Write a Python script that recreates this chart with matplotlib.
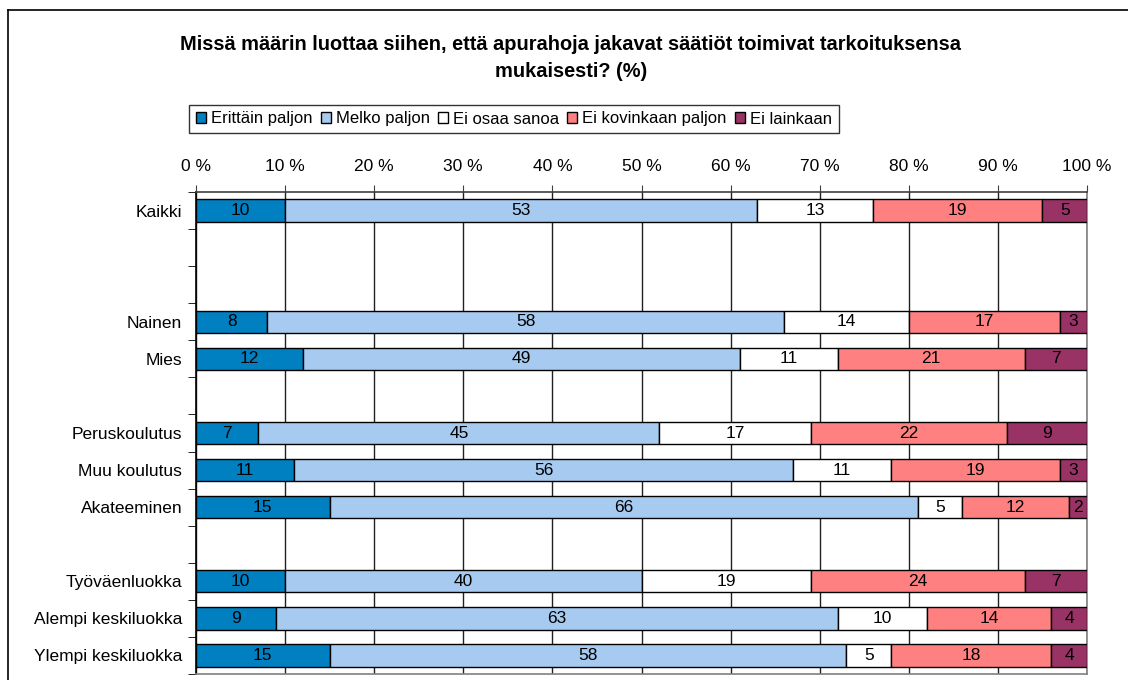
import numpy as np
import matplotlib.pyplot as plt
from matplotlib.lines import Line2D

plt.rcParams['font.family'] = ['Liberation Sans', 'DejaVu Sans']

categories = ['Kaikki', '', '', 'Nainen', 'Mies', '', 'Peruskoulutus', 'Muu koulutus',
              'Akateeminen', '', 'Työväenluokka', 'Alempi keskiluokka', 'Ylempi keskiluokka']
series_names = ['Erittäin paljon', 'Melko paljon', 'Ei osaa sanoa', 'Ei kovinkaan paljon', 'Ei lainkaan']
# None = tyhjä rivi
erittain = [10, None, None, 8, 12, None, 7, 11, 15, None, 10, 9, 15]
melko = [53, None, None, 58, 49, None, 45, 56, 66, None, 40, 63, 58]
ei_osaa = [13, None, None, 14, 11, None, 17, 11, 5, None, 19, 10, 5]
ei_kovin = [19, None, None, 17, 21, None, 22, 19, 12, None, 24, 14, 18]
ei_lainkaan = [5, None, None, 3, 7, None, 9, 3, 2, None, 7, 4, 4]
colors = ['#0080C0', '#A6CAF0', '#FFFFFF', '#FF8080', '#993366']
xticks = list(range(0, 101, 10))

fig = plt.figure(figsize=(11.28, 6.8), dpi=100)
ax = fig.add_axes([196/1128, 6/680, (1087-196)/1128, (674-192)/680])

data = [erittain, melko, ei_osaa, ei_kovin, ei_lainkaan]
n = len(categories)
y = np.arange(n)
rows = [i for i in range(n) if erittain[i] is not None]
left = np.zeros(n)
for vals, name, col in zip(data, series_names, colors):
    w = np.array([vals[i] for i in rows], dtype=float)
    ax.barh(y[rows], w, left=left[rows], height=0.6, color=col, edgecolor='black',
            linewidth=1, label=name, zorder=3)
    for k, i in enumerate(rows):
        ax.text(left[i] + w[k] / 2, y[i], f'{int(w[k])}', ha='center', va='center',
                fontsize=12.5, color='black', zorder=4)
        left[i] += w[k]

ax.set_xlim(0, 100)
ax.set_ylim(n - 0.5, -0.5)
ax.xaxis.tick_top()
ax.set_xticks(xticks)
ax.set_xticklabels([f'{t} %' for t in xticks], fontsize=12.5)
ax.tick_params(axis='x', length=5, pad=8, color='#404040')
ax.set_yticks(y)
ax.set_yticklabels(categories, fontsize=12.5)
ax.set_yticks(np.arange(n + 1) - 0.5, minor=True)
ax.tick_params(axis='y', which='major', length=0, pad=10)
ax.tick_params(axis='y', which='minor', length=6, color='black')
ax.grid(axis='x', color='#202020', linewidth=1, zorder=0)
ax.spines['left'].set_color('black')
ax.spines['top'].set_color('#404040')
ax.spines['right'].set_color('#808080')
ax.spines['bottom'].set_color('#808080')
for s in ax.spines.values():
    s.set_linewidth(1.2)

fig.text(571/1128, 1 - 58/680,
         'Missä määrin luottaa siihen, että apurahoja jakavat säätiöt toimivat tarkoituksensa\nmukaisesti? (%)',
         ha='center', va='center', fontsize=14.4, fontweight='bold', linespacing=1.5)

leg = fig.legend(loc='center', bbox_to_anchor=(514/1128, 1 - 119/680), ncol=5, fontsize=12,
                 frameon=True, fancybox=False, handlelength=0.6, handleheight=0.6,
                 handletextpad=0.3, columnspacing=0.5, borderpad=0.4, borderaxespad=0)
leg.get_frame().set_edgecolor('black')
leg.get_frame().set_linewidth(1)

# kuvan reunaviivat
fig.add_artist(Line2D([8/1128, 1], [1 - 10/680, 1 - 10/680], color='black', linewidth=1.2,
                      transform=fig.transFigure))
fig.add_artist(Line2D([8/1128, 8/1128], [0, 1 - 10/680], color='black', linewidth=1.2,
                      transform=fig.transFigure))

fig.savefig('out.png', dpi=100)
